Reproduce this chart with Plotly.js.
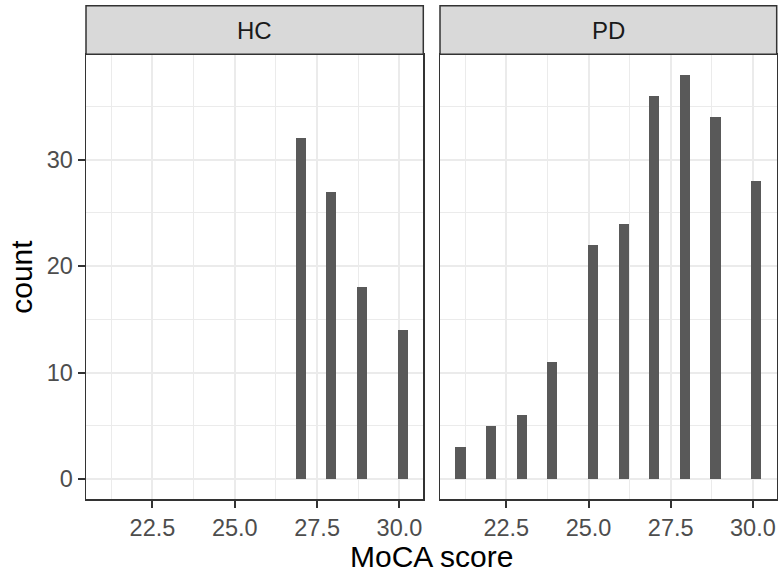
<!DOCTYPE html>
<html>
<head>
<meta charset="utf-8">
<script src="https://cdn.plot.ly/plotly-3.0.1.min.js"></script>
<style>
  html, body { margin: 0; padding: 0; background: #ffffff; }
  #chart { width: 779px; height: 577px; }
</style>
</head>
<body>
<div id="chart"></div>
<script>
// MoCA score counts per group
const groups = ["HC", "PD"];
const hcScores = [27, 28, 29, 30];
const hcCounts = [32, 27, 18, 14];
const pdScores = [21, 22, 23, 24, 25, 26, 27, 28, 29, 30];
const pdCounts = [3, 5, 6, 11, 22, 24, 36, 38, 34, 28];

// 30 bins over the shared score range, boundary at half a bin width
const nBins = 30;
const allScores = hcScores.concat(pdScores);
const xMin = Math.min(...allScores);
const xMax = Math.max(...allScores);
const binW = (xMax - xMin) / (nBins - 1);
const boundary = binW / 2;
const origin = boundary + Math.floor((xMin - boundary) / binW) * binW;
const binEnd = origin + nBins * binW;
const xPad = (binEnd - origin) * 0.05;
const xRange = [origin - xPad, binEnd + xPad];
const yMaxCount = Math.max(...hcCounts, ...pdCounts);
const yRange = [-yMaxCount * 0.05, yMaxCount * 1.05];

const FONT = "Liberation Sans, Arial, Helvetica, sans-serif";
const barColor = "#595959";

function hist(xs, ys, xa, ya) {
  return {
    type: "histogram",
    x: xs, y: ys, histfunc: "sum",
    xbins: { start: origin, end: binEnd, size: binW },
    autobinx: false,
    marker: { color: barColor, line: { width: 0 } },
    xaxis: xa, yaxis: ya,
    hoverinfo: "x+y"
  };
}

const data = [
  hist(hcScores, hcCounts, "x", "y"),
  hist(pdScores, pdCounts, "x2", "y2")
];

const W = 779, H = 577;
const panels = [[86, 423.3], [440, 776.7]];
const panelTop = 54.3, panelBot = 499.3;
const stripTop = 5.7;
const yDom = [1 - panelBot / H, 1 - panelTop / H];

function xAxis(dom, anchor) {
  return {
    domain: dom, anchor: anchor, range: xRange, autorange: false,
    tick0: 0, dtick: 2.5, tickformat: ".1f",
    ticks: "outside", ticklen: 7, tickwidth: 2, tickcolor: "#333333",
    tickfont: { family: FONT, size: 23.5, color: "#4D4D4D" },
    showgrid: true, gridcolor: "#EBEBEB", gridwidth: 2,
    minor: { dtick: 1.25, tick0: 0, showgrid: true, gridcolor: "#EBEBEB", gridwidth: 1.1, ticks: "" },
    showline: true, mirror: true, linecolor: "#333333", linewidth: 1.5,
    zeroline: false, fixedrange: true
  };
}
function yAxis(anchor, labels) {
  return {
    domain: yDom, anchor: anchor, range: yRange, autorange: false,
    tick0: 0, dtick: 10,
    ticks: labels ? "outside" : "", ticklen: 7, tickwidth: 2, tickcolor: "#333333",
    showticklabels: labels,
    tickfont: { family: FONT, size: 23.5, color: "#4D4D4D" },
    showgrid: true, gridcolor: "#EBEBEB", gridwidth: 2,
    minor: { dtick: 5, tick0: 0, showgrid: true, gridcolor: "#EBEBEB", gridwidth: 1.1, ticks: "" },
    showline: true, mirror: true, linecolor: "#333333", linewidth: 1.5,
    zeroline: false, fixedrange: true
  };
}

const shapes = [];
const annotations = [];
panels.forEach(function (p, i) {
  shapes.push({
    type: "rect", xref: "paper", yref: "paper",
    x0: p[0] / W, x1: p[1] / W, y0: 1 - panelTop / H, y1: 1 - stripTop / H,
    fillcolor: "#D9D9D9", line: { color: "#333333", width: 1.5 }, layer: "above"
  });
  annotations.push({
    xref: "paper", yref: "paper",
    x: (p[0] + p[1]) / 2 / W, y: 1 - (stripTop + panelTop) / 2 / H,
    text: groups[i], showarrow: false, xanchor: "center", yanchor: "middle",
    font: { family: FONT, size: 24, color: "#1A1A1A" }
  });
});
annotations.push({
  xref: "paper", yref: "paper", x: (panels[0][0] + panels[1][1]) / 2 / W, y: 1 - 556 / H,
  text: "MoCA score", showarrow: false, xanchor: "center", yanchor: "middle",
  font: { family: FONT, size: 30, color: "#000000" }
});
annotations.push({
  xref: "paper", yref: "paper", x: 22 / W, y: 1 - (panelTop + panelBot) / 2 / H,
  text: "count", showarrow: false, textangle: -90, xanchor: "center", yanchor: "middle",
  font: { family: FONT, size: 30, color: "#000000" }
});

const layout = {
  width: W, height: H,
  margin: { l: 0, r: 0, t: 0, b: 0 },
  paper_bgcolor: "#ffffff", plot_bgcolor: "#ffffff",
  showlegend: false, bargap: 0,
  xaxis: xAxis([panels[0][0] / W, panels[0][1] / W], "y"),
  yaxis: yAxis("x", true),
  xaxis2: xAxis([panels[1][0] / W, panels[1][1] / W], "y2"),
  yaxis2: yAxis("x2", false),
  shapes: shapes,
  annotations: annotations
};

Plotly.newPlot("chart", data, layout, { displayModeBar: false, staticPlot: true });
</script>
</body>
</html>
